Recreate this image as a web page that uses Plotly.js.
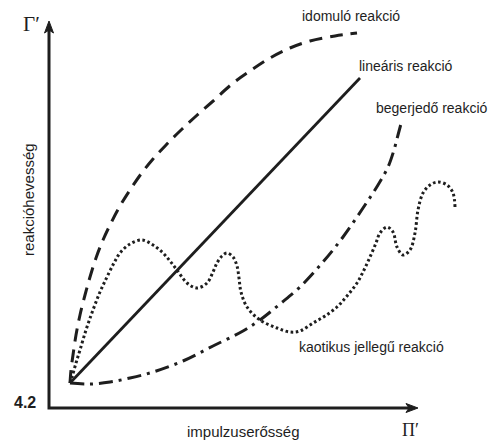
<!DOCTYPE html>
<html>
<head>
<meta charset="utf-8">
<script src="https://cdn.plot.ly/plotly-3.0.1.min.js"></script>
<style>html,body{margin:0;padding:0;background:#fff;}#chart{width:496px;height:442px;}</style>
</head>
<body>
<div id="chart"></div>
<script>
// Values (x: impulzuserősség, y: reakcióhevesség; origin at the axis corner)
var linearX = [21, 311];
var linearY = [25, 330];

var idomuloX = [21,22,24,27,31,36,41,47,54,62,71,81,92,104,117,131,146,163,183,201,221,241,261,286,308];
var idomuloY = [25,38,53,73,93,113,131,150,168,185,202,218,234,249,263,277,291,306,324,337,350,360,367,372,375];

var begerjedoX = [21,41,61,81,104,134,164,194,211,231,251,274,294,314,329,339,345,349,353];
var begerjedoY = [25,24,26,30,36,47,62,77,88,104,121,146,171,200,223,241,258,273,288];

var kaotikusX = [21,23,27,31,37,44,51,58,65,71,81,93,104,114,121,128,138,148,158,164,168,173,178,184,188,190,192,198,211,228,241,251,264,276,288,298,308,315,321,327,331,338,344,348,354,361,366,369,374,381,389,398,404,406];
var kaotikusY = [25,31,45,58,78,98,116,131,145,155,164,168,163,155,147,138,125,120,125,136,145,152,155,151,142,130,116,101,88,80,76,77,85,92,101,112,125,138,151,165,175,181,176,161,153,158,175,198,215,223,226,223,215,201];

var seriesNames = ['lineáris reakció', 'idomuló reakció', 'begerjedő reakció', 'kaotikus jellegű reakció'];
var axisTitles = {x: 'impulzuserősség', y: 'reakcióhevesség'};
var axisSymbols = {x: 'Π′', y: 'Γ′'};
var originLabel = '4.2';
var axisEnds = {x: 369, y: 387};

var ink = '#1e1e1e';
var labelFont = {family: 'Liberation Sans, Arial, sans-serif', size: 14, color: ink};
var titleFont = {family: 'Liberation Sans, Arial, sans-serif', size: 15, color: ink};

var traces = [
  {x: [0, 0, axisEnds.x - 8], y: [axisEnds.y - 8, 0, 0], mode: 'lines', line: {color: ink, width: 3}, hoverinfo: 'skip'},
  {x: linearX, y: linearY, mode: 'lines', name: seriesNames[0], line: {color: ink, width: 2.8}},
  {x: idomuloX, y: idomuloY, mode: 'lines', name: seriesNames[1], line: {color: ink, width: 3, dash: '13px,8px', shape: 'spline', smoothing: 1}},
  {x: begerjedoX, y: begerjedoY, mode: 'lines', name: seriesNames[2], line: {color: ink, width: 3, dash: '14px,6px,3px,6px', shape: 'spline', smoothing: 1}},
  {x: kaotikusX, y: kaotikusY, mode: 'lines', name: seriesNames[3], line: {color: ink, width: 3, dash: '2.6px,2.6px', shape: 'spline', smoothing: 1}}
];

var ex = axisEnds.x, ey = axisEnds.y;
var shapes = [
  {type: 'path', xref: 'x', yref: 'y', path: 'M 0 ' + ey + ' L -4.5 ' + (ey - 12) + ' L 0 ' + (ey - 9) + ' L 4.5 ' + (ey - 12) + ' Z', fillcolor: ink, line: {color: ink, width: 1}},
  {type: 'path', xref: 'x', yref: 'y', path: 'M ' + ex + ' 0 L ' + (ex - 12) + ' 4.5 L ' + (ex - 9) + ' 0 L ' + (ex - 12) + ' -4.5 Z', fillcolor: ink, line: {color: ink, width: 1}}
];

var annotations = [
  {x: -18, y: 384, text: axisSymbols.y, showarrow: false, font: {family: 'Liberation Serif, Times New Roman, serif', size: 21, color: ink}},
  {x: 361, y: -22, text: axisSymbols.x, showarrow: false, font: {family: 'Liberation Serif, Times New Roman, serif', size: 18, color: ink}},
  {x: -11, y: 6, text: '<b>' + originLabel + '</b>', xanchor: 'right', showarrow: false, font: {family: 'Liberation Sans, Arial, sans-serif', size: 16, color: ink}},
  {x: 194, y: -23, text: axisTitles.x, showarrow: false, font: titleFont},
  {x: -21, y: 208, text: axisTitles.y, textangle: -90, showarrow: false, font: titleFont},
  {x: 302, y: 392, text: seriesNames[1], showarrow: false, font: labelFont},
  {x: 357, y: 342, text: seriesNames[0], showarrow: false, font: labelFont},
  {x: 383, y: 300, text: seriesNames[2], showarrow: false, font: labelFont},
  {x: 322, y: 61, text: seriesNames[3], showarrow: false, font: labelFont}
];

var hidden = {showgrid: false, zeroline: false, showline: false, showticklabels: false, ticks: '', fixedrange: true};

var layout = {
  width: 496, height: 442,
  margin: {l: 0, r: 0, t: 0, b: 0},
  paper_bgcolor: '#ffffff', plot_bgcolor: '#ffffff',
  showlegend: false,
  xaxis: Object.assign({range: [-49, 447]}, hidden),
  yaxis: Object.assign({range: [-34, 408]}, hidden),
  shapes: shapes,
  annotations: annotations
};

Plotly.newPlot('chart', traces, layout, {displayModeBar: false, staticPlot: true});
</script>
</body>
</html>
